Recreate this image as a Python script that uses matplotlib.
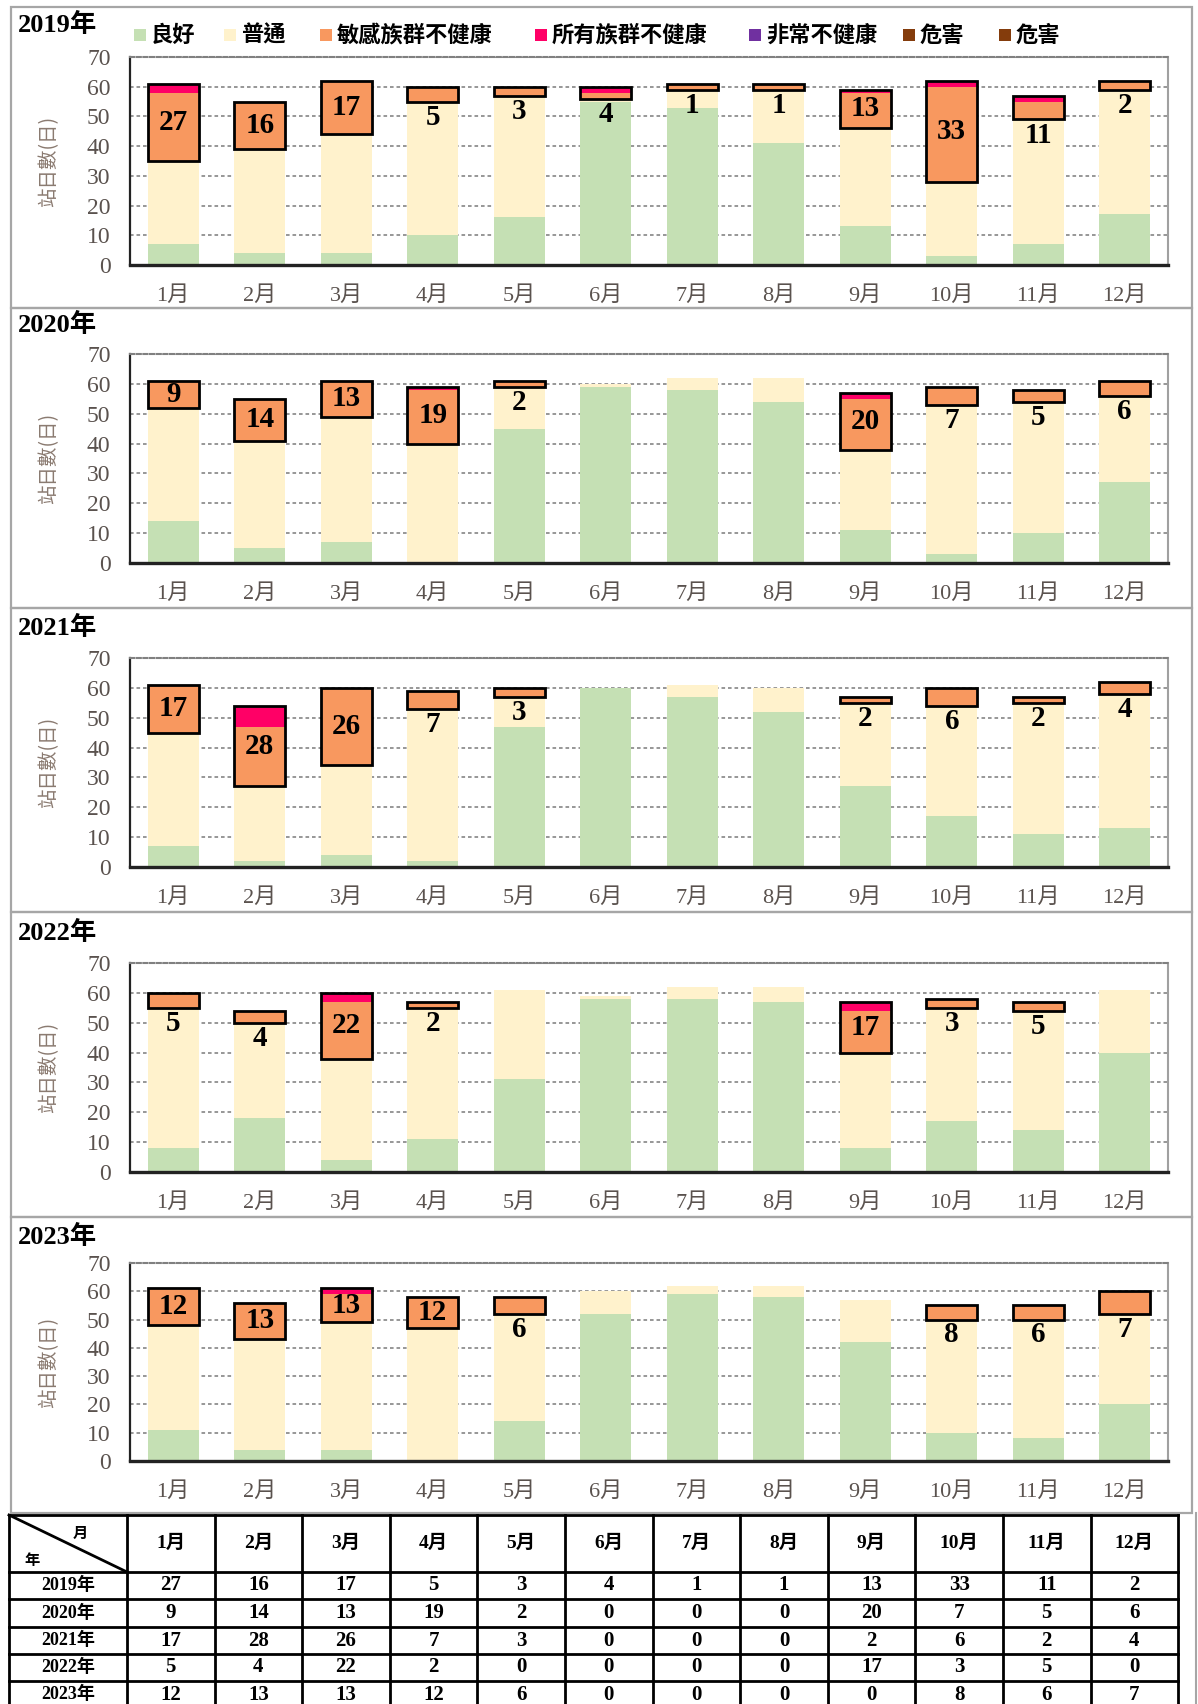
import numpy as np
import matplotlib.pyplot as plt
from matplotlib.patches import Rectangle

years = ['2019年', '2020年', '2021年', '2022年', '2023年']
months = ['1月', '2月', '3月', '4月', '5月', '6月', '7月', '8月', '9月', '10月', '11月', '12月']

# station-days per AQI class, one row per year
good = [
    [7, 4, 4, 10, 16, 55, 53, 41, 13, 3, 7, 17],
    [14, 5, 7, 0, 45, 59, 58, 54, 11, 3, 10, 27],
    [7, 2, 4, 2, 47, 60, 57, 52, 27, 17, 11, 13],
    [8, 18, 4, 11, 31, 58, 58, 57, 8, 17, 14, 40],
    [11, 4, 4, 0, 14, 52, 59, 58, 42, 10, 8, 20],
]
moderate = [
    [28, 35, 40, 45, 41, 1, 6, 18, 33, 25, 42, 42],
    [38, 36, 42, 40, 14, 1, 4, 8, 27, 50, 44, 29],
    [38, 25, 30, 51, 10, 0, 4, 8, 28, 37, 44, 45],
    [47, 32, 34, 44, 30, 1, 4, 5, 32, 38, 40, 21],
    [37, 39, 45, 47, 38, 8, 3, 4, 15, 40, 42, 32],
]
sensitive = [
    [23, 16, 18, 5, 3, 2, 2, 2, 12, 32, 6, 3],
    [9, 14, 12, 18, 2, 0, 0, 0, 17, 6, 4, 5],
    [16, 20, 26, 6, 3, 0, 0, 0, 2, 6, 2, 4],
    [5, 4, 19, 2, 0, 0, 0, 0, 14, 3, 3, 0],
    [13, 13, 10, 11, 6, 0, 0, 0, 0, 5, 5, 8],
]
all_groups = [
    [3, 0, 0, 0, 0, 2, 0, 0, 1, 2, 2, 0],
    [0, 0, 0, 1, 0, 0, 0, 0, 2, 0, 0, 0],
    [0, 7, 0, 0, 0, 0, 0, 0, 0, 0, 0, 0],
    [0, 0, 3, 0, 0, 0, 0, 0, 3, 0, 0, 0],
    [0, 0, 2, 0, 0, 0, 0, 0, 0, 0, 0, 0],
]
very_unhealthy = [[0] * 12 for _ in years]
hazardous = [[0] * 12 for _ in years]

# table values (days over standard)
exceed = [
    [27, 16, 17, 5, 3, 4, 1, 1, 13, 33, 11, 2],
    [9, 14, 13, 19, 2, 0, 0, 0, 20, 7, 5, 6],
    [17, 28, 26, 7, 3, 0, 0, 0, 2, 6, 2, 4],
    [5, 4, 22, 2, 0, 0, 0, 0, 17, 3, 5, 0],
    [12, 13, 13, 12, 6, 0, 0, 0, 0, 8, 6, 7],
]

legend_labels = ['良好', '普通', '敏感族群不健康', '所有族群不健康', '非常不健康', '危害', '危害']
colors = ['#C5E0B4', '#FFF2CC', '#F8985F', '#FF0066', '#7030A0', '#843C0C', '#843C0C']

SERIF = ['Liberation Serif', 'Noto Sans CJK TC']
CJK = ['Noto Sans CJK TC', 'DejaVu Sans']
TICK_C = '#5a524e'

W, H = 1198, 1704
fig = plt.figure(figsize=(W / 100, H / 100), dpi=100)

def rect(l, t, r, b):
    return [l / W, 1 - b / H, (r - l) / W, (b - t) / H]

bg = fig.add_axes([0, 0, 1, 1])
bg.set_xlim(0, W)
bg.set_ylim(H, 0)
bg.axis('off')

panels = [(7, 308), (308, 608), (608, 912), (912, 1217), (1217, 1513)]
axes_tb = [(57, 265), (354, 563), (658, 867), (963, 1172), (1263, 1461)]
year_y = [25, 325, 628, 933, 1237]
AX_L, AX_R = 130, 1168

# legend on top
leg_x = [134, 224, 320, 535, 749, 903, 999]
for x, lab, c in zip(leg_x, legend_labels, colors):
    bg.add_patch(Rectangle((x, 29), 12, 12, color=c, lw=0))
    bg.text(x + 17, 35, lab, fontsize=16, fontweight='bold', family=CJK, va='center', ha='left')

x = np.arange(12)
bw = 0.59
for i, yr in enumerate(years):
    top, bot = panels[i]
    bg.add_patch(Rectangle((11, top), 1181, bot - top, fill=False, ec='#a6a6a6', lw=1.6))
    bg.text(18, year_y[i], yr, fontsize=19, fontweight='bold', family=SERIF, va='center')
    at, ab = axes_tb[i]
    bg.text(49, (at + ab) / 2, '站日數(日)', rotation=90, fontsize=14, color='#8a7a70',
            family=CJK, va='center', ha='center')

    ax = fig.add_axes(rect(AX_L, at, AX_R, ab))
    g = np.array(good[i])
    m = np.array(moderate[i])
    s = np.array(sensitive[i])
    a = np.array(all_groups[i])
    v = np.array(very_unhealthy[i])
    h = np.array(hazardous[i])
    ax.bar(x, g, bw, color=colors[0], zorder=2)
    ax.bar(x, m, bw, bottom=g, color=colors[1], zorder=2)
    ax.bar(x, s, bw, bottom=g + m, color=colors[2], zorder=2)
    ax.bar(x, a, bw, bottom=g + m + s, color=colors[3], zorder=2)
    ax.bar(x, v, bw, bottom=g + m + s + a, color=colors[4], zorder=2)
    ax.bar(x, h, bw, bottom=g + m + s + a + v, color=colors[5], zorder=2)

    box = s + a
    mask = box > 0
    ax.bar(x[mask], box[mask], bw, bottom=(g + m)[mask], fill=False,
           edgecolor='black', linewidth=2.0, zorder=3)
    for k in range(12):
        val = exceed[i][k]
        if val == 0:
            continue
        base = g[k] + m[k]
        if box[k] >= 9:
            ty = base + box[k] / 2
        else:
            ty = base - 5.4
        ax.text(k, ty, str(val), ha='center', va='center', fontsize=21,
                fontweight='bold', family=SERIF, zorder=4)

    ax.set_xlim(-0.5, 11.5)
    ax.set_ylim(0, 70)
    ax.set_yticks(range(0, 71, 10))
    ax.set_xticks(x)
    ax.set_xticklabels(months, family=SERIF, fontsize=16, color=TICK_C)
    ax.set_yticklabels([str(t) for t in range(0, 71, 10)], family=SERIF, fontsize=17, color=TICK_C)
    ax.tick_params(axis='x', length=0, pad=15)
    ax.tick_params(axis='y', length=0, pad=14)
    ax.set_axisbelow(True)
    ax.yaxis.grid(True, linestyle=(0, (2, 1.6)), color='#8f8f8f', lw=1.3)
    ax.spines['top'].set_linestyle((0, (2, 1.2)))
    ax.spines['top'].set_color('#808080')
    ax.spines['top'].set_linewidth(1.5)
    ax.spines['right'].set_color('#a0a0a0')
    ax.spines['right'].set_linewidth(1.5)
    ax.spines['left'].set_color('#222222')
    ax.spines['left'].set_linewidth(1.6)
    ax.spines['bottom'].set_color('#222222')
    ax.spines['bottom'].set_linewidth(2.4)

# table at the bottom
col_edges = [9, 127] + [127 + 87.6 * (k + 1) for k in range(12)]
row_edges = [1515, 1572, 1599, 1627, 1654, 1681, 1708]
lw_t = 2.0
for cx in col_edges:
    bg.plot([cx, cx], [row_edges[0], H], color='black', lw=lw_t)
for ry in row_edges[:-1]:
    bg.plot([col_edges[0], col_edges[-1]], [ry, ry], color='black', lw=lw_t)
bg.plot([col_edges[0], col_edges[1]], [row_edges[0], row_edges[1]], color='black', lw=lw_t)
bg.text(80, 1533, '月', fontsize=11, fontweight='bold', family=CJK, ha='center', va='center')
bg.text(32, 1560, '年', fontsize=11, fontweight='bold', family=CJK, ha='center', va='center')
for k, mo in enumerate(months):
    cx = (col_edges[k + 1] + col_edges[k + 2]) / 2
    bg.text(cx, (row_edges[0] + row_edges[1]) / 2, mo, fontsize=14, fontweight='bold',
            family=SERIF, ha='center', va='center')
for i, yr in enumerate(years):
    cy = (row_edges[i + 1] + row_edges[i + 2]) / 2
    bg.text((col_edges[0] + col_edges[1]) / 2, cy, yr, fontsize=13, fontweight='bold',
            family=SERIF, ha='center', va='center')
    for k in range(12):
        cx = (col_edges[k + 1] + col_edges[k + 2]) / 2
        bg.text(cx, cy, str(exceed[i][k]), fontsize=15, fontweight='bold',
                family=SERIF, ha='center', va='center')
bg.plot([1196, 1196], [1513, H], color='#a6a6a6', lw=1.5)

fig.savefig('out.png', dpi=100)
